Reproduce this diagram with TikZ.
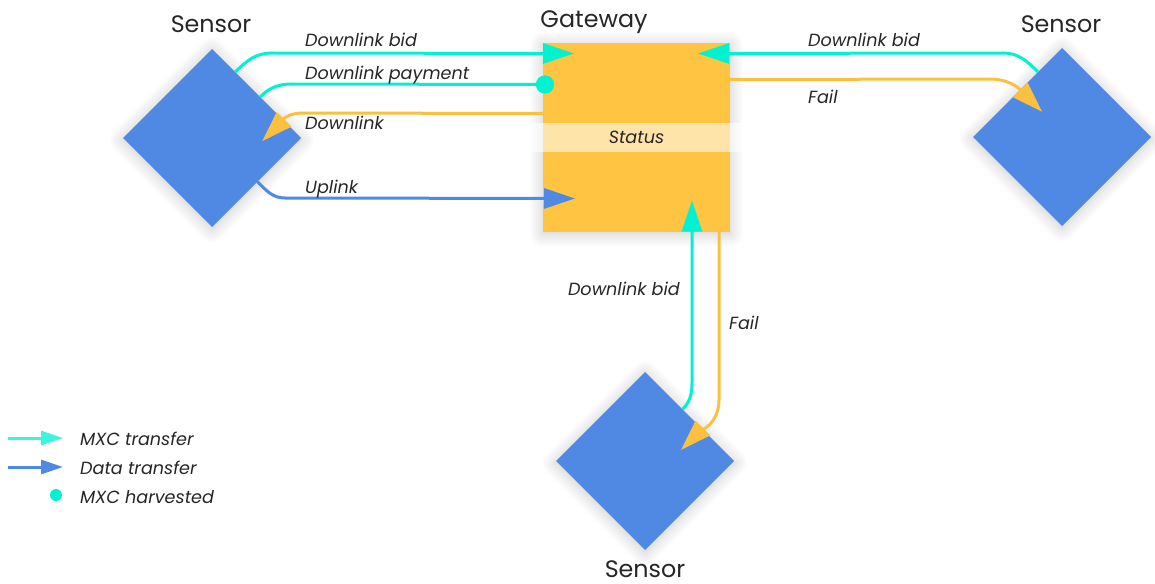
\documentclass[tikz,border=0pt]{standalone}
\usepackage{fontspec}
\setmainfont{Poppins}
\usetikzlibrary{arrows.meta,shapes.geometric,calc,shadows.blur}
\definecolor{gwyellow}{HTML}{FFC542}
\definecolor{sblue}{HTML}{4F89E3}
\definecolor{mxc}{HTML}{00F2D0}
\definecolor{mxclight}{HTML}{3CF5DF}
\definecolor{failc}{HTML}{FBC03F}
\definecolor{txt}{HTML}{262626}
\begin{document}
\begin{tikzpicture}[x=1pt,y=1pt,
  lbl/.style={font=\itshape\fontsize{17.6}{20}\selectfont, text=txt, inner sep=0pt, anchor=base west},
  ttl/.style={font=\fontsize{23.8}{27}\selectfont, text=txt, inner sep=0pt, anchor=base},
  softshadow/.style={blur shadow={shadow xshift=0pt, shadow yshift=-2pt, shadow blur radius=14pt, shadow opacity=22, shadow blur steps=10}},
  sensor/.style={diamond, aspect=1, fill=sblue, minimum width=178pt, minimum height=178pt, inner sep=0pt, outer sep=0pt, softshadow},
  gwbox/.style={rectangle, fill=gwyellow, minimum width=187pt, minimum height=188pt, inner sep=0pt, outer sep=0pt, softshadow},
  flow/.style={line width=3pt},
  tip/.style={-{Triangle[length=31pt,width=20pt]}},
  ltip/.style={-{Triangle[length=22pt,width=14pt]}},
  statusband/.style={fill=white, fill opacity=0.55, text opacity=1, minimum width=223pt, minimum height=29pt, inner sep=0pt, font=\itshape\fontsize{17.6}{20}\selectfont, text=txt},
]
\useasboundingbox (0,0) rectangle (1155,-583);

% nodes
\node[gwbox] (gw) at (636.5,-137.5) {};
\node[sensor] (sl) at (212,-138) {};
\node[sensor] (sr) at (1062,-137) {};
\node[sensor] (sb) at (645,-461) {};

% titles
\node[ttl] (tgw) at (594,-28) {Gateway};
\node[ttl] (tsl) at (211,-33) {Sensor};
\node[ttl] (tsr) at (1061,-33) {Sensor};
\node[ttl] (tsb) at (645,-577) {Sensor};

% gateway points
\coordinate (gwBid) at ($(gw.north west)+(31,-10)$);
\node[circle, fill=mxc, minimum size=18pt, inner sep=0pt] (dot) at ($(gw.north west)+(2,-41)$) {};
\coordinate (gwDl) at ($(gw.north west)+(0,-70)$);
\coordinate (gwUp) at ($(gw.north west)+(32,-155)$);
\coordinate (gwBidR) at ($(gw.north east)+(-32,-10)$);
\coordinate (gwFail) at ($(gw.north east)+(0,-36)$);
\coordinate (gwBidB) at ($(gw.south east)+(-38,31)$);
\coordinate (gwFailB) at ($(gw.south east)+(-11,0)$);

% sensor points
\coordinate (slA) at ($(sl.north)!0.26!(sl.east)$);
\coordinate (slB) at ($(sl.north)!0.54!(sl.east)$);
\coordinate (slC) at ($(sl.north)!0.80!(sl.east)+(-21,-21)$);
\coordinate (slD) at ($(sl.east)!0.49!(sl.south)$);
\coordinate (srA) at ($(sr.north)!0.27!(sr.west)$);
\coordinate (srB) at ($(sr.north)!0.47!(sr.west)+(22,-22)$);
\coordinate (sbA) at ($(sb.north)!0.42!(sb.east)$);
\coordinate (sbB) at ($(sb.north)!0.64!(sb.east)+(-21,-21)$);

% connectors left
\draw[flow, mxc, tip] (slA) to[out=45,in=180] (272,-53) -- (gwBid);
\draw[flow, mxc] (slB) to[out=45,in=180] (292,-84) -- (dot);
\node[circle, fill=mxc, minimum size=18pt, inner sep=0pt] at (dot) {};
\draw[flow, failc, tip] (gwDl) -- (302,-113) to[out=180,in=45] (slC);
\draw[flow, sblue, tip] (slD) to[out=-45,in=180] (285,-198) -- (gwUp);

% connectors right
\draw[flow, mxc, tip] (srA) to[out=135,in=0] (1003,-53) -- (gwBidR);
\draw[flow, failc, tip] (gwFail) -- (990,-79) to[out=0,in=135] (srB);

% connectors bottom
\draw[flow, mxc, tip] (sbA) to[out=45,in=-90] (692,-383) -- (gwBidB);
\draw[flow, failc, tip] (gwFailB) -- (719,-400) to[out=-90,in=45] (sbB);

% status band
\node[statusband] (st) at (636.5,-137.5) {Status};

% labels
\node[lbl] (l1) at (305,-47) {Downlink bid};
\node[lbl] (l2) at (305,-80) {Downlink payment};
\node[lbl] (l3) at (305,-129) {Downlink};
\node[lbl] (l4) at (305,-193) {Uplink};
\node[lbl] (r1) at (808,-47) {Downlink bid};
\node[lbl] (r2) at (808,-103) {Fail};
\node[lbl, anchor=base east] (b1) at (680,-295) {Downlink bid};
\node[lbl] (b2) at (729,-329) {Fail};

% legend
\coordinate (lg1a) at (8,-438);
\coordinate (lg1b) at (63,-438);
\coordinate (lg2a) at (8,-467);
\coordinate (lg2b) at (63,-467);
\draw[flow, mxclight, ltip] (lg1a) -- (lg1b);
\draw[flow, sblue, ltip] (lg2a) -- (lg2b);
\node[circle, fill=mxc, minimum size=12pt, inner sep=0pt] (lgdot) at (56,-495) {};
\node[lbl] (g1) at (80,-445) {MXC transfer};
\node[lbl] (g2) at (80,-474) {Data transfer};
\node[lbl] (g3) at (80,-503) {MXC harvested};
\end{tikzpicture}
\end{document}
